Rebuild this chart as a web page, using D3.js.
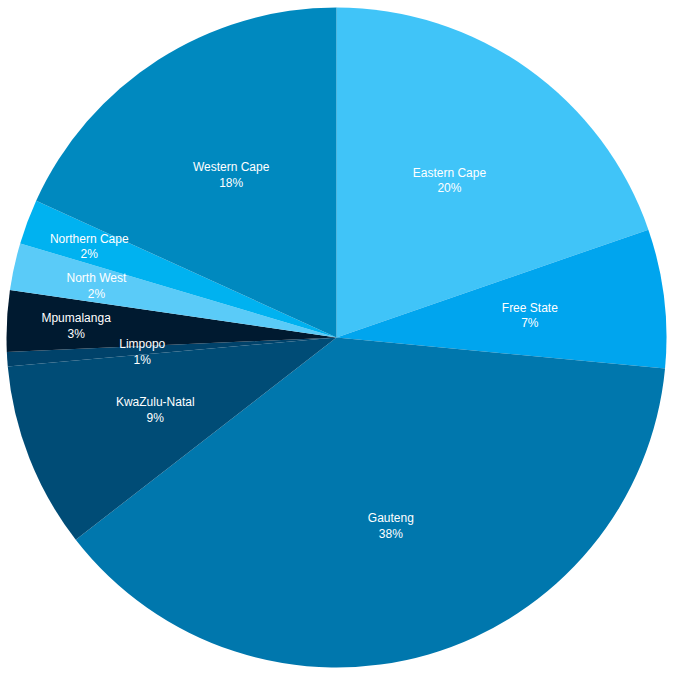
<!DOCTYPE html>
<html>
<head>
<meta charset="utf-8">
<script src="https://cdn.jsdelivr.net/npm/d3@7"></script>
<style>
  html, body { margin: 0; padding: 0; background: #ffffff; }
  svg { display: block; }
</style>
</head>
<body>
<svg id="chart" width="673" height="675"></svg>
<script>
const categories = ["Eastern Cape", "Free State", "Gauteng", "KwaZulu-Natal", "Limpopo", "Mpumalanga", "North West", "Northern Cape", "Western Cape"];
const values = [19.7, 6.8, 38.0, 9.1, 0.7, 3.0, 2.3, 2.2, 18.2];
const colors = ["#40C4F8", "#00A5EE", "#0077AD", "#004C76", "#00426A", "#001A30", "#5ACBF8", "#00B2F0", "#0089BF"];

// layout: labels of crowded thin slices are pushed outward to avoid overlap
const defaultLabelFactor = 0.59;
const pushedLabelFactor = { "Mpumalanga": 0.79, "North West": 0.745, "Northern Cape": 0.80 };

const width = 673, height = 675;
const radius = 330;
const svg = d3.select("#chart");
const g = svg.append("g").attr("transform", `translate(${width / 2},${height / 2})`);

const data = categories.map((c, i) => ({ name: c, value: values[i], color: colors[i] }));
const total = d3.sum(values);

const pie = d3.pie().value(d => d.value).sort(null);
const arc = d3.arc().innerRadius(0).outerRadius(radius);

const arcs = pie(data);

g.selectAll("path.slice")
  .data(arcs)
  .join("path")
  .attr("class", "slice")
  .attr("d", arc)
  .attr("fill", d => d.data.color);

function labelPos(d) {
  const f = pushedLabelFactor[d.data.name] || defaultLabelFactor;
  const la = d3.arc().innerRadius(radius * f).outerRadius(radius * f);
  return la.centroid(d);
}

const labels = g.selectAll("text.label")
  .data(arcs)
  .join("text")
  .attr("class", "label")
  .attr("transform", d => `translate(${labelPos(d)})`)
  .attr("text-anchor", "middle")
  .attr("fill", "#ffffff")
  .style("font-family", "'Liberation Sans', Arial, Helvetica, sans-serif")
  .style("font-size", "12px");

labels.append("tspan")
  .attr("x", 0)
  .attr("dy", "-0.2em")
  .text(d => d.data.name);

labels.append("tspan")
  .attr("x", 0)
  .attr("dy", "1.3em")
  .text(d => Math.round(d.data.value / total * 100) + "%");
</script>
</body>
</html>
